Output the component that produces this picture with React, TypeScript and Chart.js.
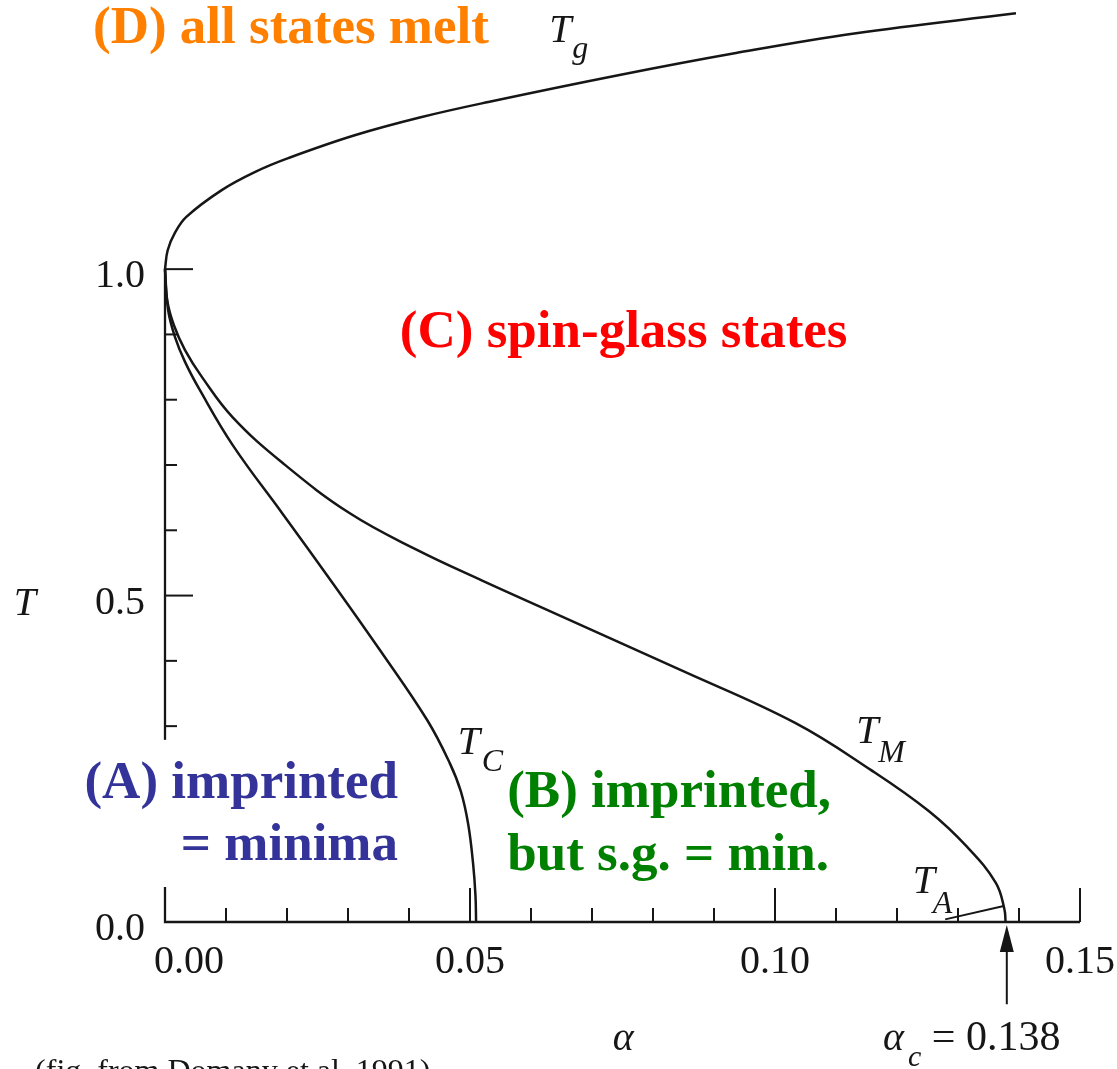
import React, { useEffect, useRef } from 'react';
import { Chart, registerables } from 'chart.js';

Chart.register(...registerables);

// ---- data (alpha = storage ratio, T = temperature) ----
const tgAlpha = [0, 0.00044, 0.0016, 0.0035, 0.0093, 0.0148, 0.0202, 0.0311, 0.0421, 0.053, 0.0743, 0.0936, 0.113, 0.1395];
const tgT = [1.0, 1.029, 1.055, 1.08, 1.121, 1.149, 1.17, 1.205, 1.233, 1.256, 1.297, 1.331, 1.361, 1.392];

const tmAlpha = [0, 0.00036, 0.00146, 0.00328, 0.00607, 0.0111, 0.0193, 0.0303, 0.0413, 0.052, 0.064, 0.0844, 0.1033, 0.1157, 0.1252, 0.1315, 0.1362, 0.1376, 0.1378];
const tmT = [1.0, 0.9525, 0.914, 0.876, 0.8346, 0.773, 0.703, 0.626, 0.57, 0.523, 0.4725, 0.3865, 0.305, 0.233, 0.17, 0.115, 0.06, 0.02, 0.0];

const tcAlpha = [0, 0.00052, 0.00164, 0.00328, 0.0057, 0.0111, 0.0193, 0.0275, 0.0352, 0.043, 0.0467, 0.0485, 0.0497, 0.0505, 0.0509, 0.051];
const tcT = [1.0, 0.937, 0.896, 0.858, 0.815, 0.7305, 0.625, 0.519, 0.417, 0.309, 0.243, 0.2, 0.15, 0.09, 0.04, 0.0];

const taAlpha = [0.1279, 0.1375];
const taT = [0.004, 0.0245];

const xMajorTicks = [0, 0.05, 0.1, 0.15];
const xTickLabels = ['0.00', '0.05', '0.10', '0.15'];
const xMinorTicks = [0.01, 0.02, 0.03, 0.04, 0.06, 0.07, 0.08, 0.09, 0.11, 0.12, 0.13, 0.14];
const yMajorTicks = [0, 0.5, 1.0];
const yTickLabels = ['0.0', '0.5', '1.0'];
const yMinorTicks = [0.1, 0.2, 0.3, 0.4, 0.6, 0.7, 0.8, 0.9];

const alphaC = 0.138;

// ---- annotation layout (data coordinates) ----
const regionLabels = [
  { text: '(D) all states melt', color: '#FF8000', align: 'left', x: -0.0118, y: 1.346 },
  { text: '(C) spin-glass states', color: '#FF0000', align: 'left', x: 0.0385, y: 0.8806 },
  { text: '(A) imprinted', color: '#333399', align: 'right', x: 0.0382, y: 0.19 },
  { text: '= minima', color: '#333399', align: 'right', x: 0.0382, y: 0.095 },
  { text: '(B) imprinted,', color: '#008000', align: 'left', x: 0.0561, y: 0.176 },
  { text: 'but s.g. = min.', color: '#008000', align: 'left', x: 0.0561, y: 0.0796 },
];

const curveLabels = [
  { main: 'T', sub: 'g', x: 0.063, y: 1.3476, dx: 23, dy: 16 },
  { main: 'T', sub: 'C', x: 0.048, y: 0.2573, dx: 24, dy: 17 },
  { main: 'T', sub: 'M', x: 0.1133, y: 0.2741, dx: 22, dy: 19 },
  { main: 'T', sub: 'A', x: 0.1226, y: 0.0444, dx: 20, dy: 20 },
];

const INK = '#161616';
const SERIF = '"Liberation Serif", "Times New Roman", serif';

const figurePlugin = {
  id: 'figurePlugin',
  beforeDatasetsDraw(chart: any) {
    const { ctx, scales } = chart;
    const xs = scales.x;
    const ys = scales.y;
    const px = (v: number) => xs.getPixelForValue(v);
    const py = (v: number) => ys.getPixelForValue(v);
    ctx.save();
    ctx.strokeStyle = INK;
    ctx.lineWidth = 2.3;
    ctx.lineCap = 'butt';
    // axes
    ctx.beginPath();
    ctx.moveTo(px(0), py(1.0));
    ctx.lineTo(px(0), py(0));
    ctx.lineTo(px(0.15), py(0));
    ctx.stroke();
    // ticks (inward)
    ctx.lineWidth = 2;
    xMajorTicks.forEach((v) => {
      if (v === 0) return;
      ctx.beginPath();
      ctx.moveTo(px(v), py(0));
      ctx.lineTo(px(v), py(0) - 34);
      ctx.stroke();
    });
    xMinorTicks.forEach((v) => {
      ctx.beginPath();
      ctx.moveTo(px(v), py(0));
      ctx.lineTo(px(v), py(0) - 14);
      ctx.stroke();
    });
    yMajorTicks.forEach((v) => {
      if (v === 0) return;
      ctx.beginPath();
      ctx.moveTo(px(0), py(v));
      ctx.lineTo(px(0) + 28, py(v));
      ctx.stroke();
    });
    yMinorTicks.forEach((v) => {
      ctx.beginPath();
      ctx.moveTo(px(0), py(v));
      ctx.lineTo(px(0) + 12, py(v));
      ctx.stroke();
    });
    // tick labels
    ctx.fillStyle = INK;
    ctx.font = `40px ${SERIF}`;
    ctx.textAlign = 'center';
    ctx.textBaseline = 'alphabetic';
    xMajorTicks.forEach((v, i) => {
      const shift = v === 0 ? 24 : 0;
      ctx.fillText(xTickLabels[i], px(v) + shift, py(0) + 51);
    });
    ctx.textAlign = 'right';
    yMajorTicks.forEach((v, i) => {
      ctx.fillText(yTickLabels[i], px(0) - 20, py(v) + 18);
    });
    ctx.restore();
  },
  afterDatasetsDraw(chart: any) {
    const { ctx, scales } = chart;
    const xs = scales.x;
    const ys = scales.y;
    const px = (v: number) => xs.getPixelForValue(v);
    const py = (v: number) => ys.getPixelForValue(v);
    ctx.save();
    // white label box behind (A)
    ctx.fillStyle = '#ffffff';
    const bx0 = px(-0.0143), bx1 = px(0.0393), by0 = py(0.279), by1 = py(0.0536);
    ctx.fillRect(bx0, by0, bx1 - bx0, by1 - by0);

    // region labels
    ctx.textBaseline = 'alphabetic';
    ctx.font = `bold 53px ${SERIF}`;
    regionLabels.forEach((l) => {
      ctx.fillStyle = l.color;
      ctx.textAlign = l.align as CanvasTextAlign;
      ctx.fillText(l.text, px(l.x), py(l.y));
    });

    // curve labels
    ctx.fillStyle = INK;
    ctx.textAlign = 'left';
    curveLabels.forEach((l) => {
      ctx.font = `italic 40px ${SERIF}`;
      ctx.fillText(l.main, px(l.x), py(l.y));
      ctx.font = `italic 32px ${SERIF}`;
      ctx.fillText(l.sub, px(l.x) + l.dx, py(l.y) + l.dy);
    });

    // axis titles
    ctx.font = `italic 40px ${SERIF}`;
    ctx.fillText('T', px(-0.0248), py(0.47));
    ctx.fillText('\u03B1', px(0.0734), py(-0.196));
    // alpha_c annotation
    ctx.fillText('\u03B1', px(0.1177), py(-0.196));
    ctx.font = `italic 30px ${SERIF}`;
    ctx.fillText('c', px(0.1177) + 25, py(-0.196) + 16);
    ctx.font = `42px ${SERIF}`;
    ctx.fillText('= 0.138', px(0.1257), py(-0.196));

    // arrow to alpha_c
    ctx.strokeStyle = INK;
    ctx.lineWidth = 2;
    const ax = px(alphaC);
    ctx.beginPath();
    ctx.moveTo(ax, py(-0.126));
    ctx.lineTo(ax, py(0) + 20);
    ctx.stroke();
    ctx.beginPath();
    ctx.moveTo(ax, py(0) + 3);
    ctx.lineTo(ax - 7, py(0) + 30);
    ctx.lineTo(ax + 7, py(0) + 30);
    ctx.closePath();
    ctx.fill();

    // source note (cut at the page bottom)
    ctx.font = `32px ${SERIF}`;
    ctx.fillText('(fig. from Domany et al. 1991)', px(-0.0213), py(-0.2435));
    ctx.restore();
  },
};

function makeSeries(a: number[], t: number[]) {
  return a.map((v, i) => ({ x: v, y: t[i] }));
}

export default function App() {
  const ref = useRef<HTMLCanvasElement>(null);
  useEffect(() => {
    if (!ref.current) return;
    const common = {
      borderColor: INK,
      borderWidth: 2.5,
      pointRadius: 0,
      fill: false,
      clip: 20,
      tension: 0.4,
      cubicInterpolationMode: 'default',
      capBezierPoints: false,
    };
    const chart = new Chart(ref.current, {
      type: 'line',
      data: {
        datasets: [
          { ...common, label: 'Tg', data: makeSeries(tgAlpha, tgT) },
          { ...common, label: 'TM', data: makeSeries(tmAlpha, tmT) },
          { ...common, label: 'TC', data: makeSeries(tcAlpha, tcT) },
          { ...common, label: 'TA', data: makeSeries(taAlpha, taT), tension: 0, borderWidth: 2 },
        ] as any,
      },
      options: {
        animation: false,
        responsive: false,
        devicePixelRatio: 1,
        layout: { padding: { left: 165, right: 37, top: 8, bottom: 147 } },
        scales: {
          x: { type: 'linear', display: false, min: 0, max: 0.15 },
          y: { type: 'linear', display: false, min: 0, max: 1.4 },
        },
        plugins: {
          legend: { display: false },
          tooltip: { enabled: false },
        },
        events: [],
      },
      plugins: [figurePlugin],
    });
    return () => chart.destroy();
  }, []);
  return (
    <div style={{ position: 'fixed', left: 0, top: 0, width: 1117, height: 1069, background: '#ffffff' }}>
      <canvas ref={ref} width={1117} height={1069} style={{ width: 1117, height: 1069, display: 'block' }} />
    </div>
  );
}
